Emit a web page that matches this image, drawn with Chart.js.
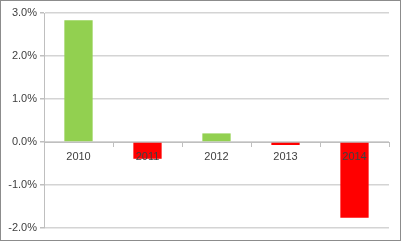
<!DOCTYPE html>
<html>
<head>
<meta charset="utf-8">
<script src="https://cdn.jsdelivr.net/npm/chart.js@4/dist/chart.umd.min.js"></script>
<style>
  html, body { margin: 0; padding: 0; background: #fff; }
  #wrap {
    width: 401px;
    height: 241px;
    box-sizing: border-box;
    border: 1px solid #8c8c8c;
    position: relative;
  }
  #wrap canvas { display: block; }
</style>
</head>
<body>
<div id="wrap"><canvas id="change-chart" width="399" height="239"></canvas></div>
<script>
var years = ["2010", "2011", "2012", "2013", "2014"];
var changePct = [2.83, -0.39, 0.2, -0.07, -1.76];
var yTicks = [-2, -1, 0, 1, 2, 3];

var positiveColor = "#92d050";
var negativeColor = "#ff0000";

document.addEventListener("DOMContentLoaded", function () {
  var ctx = document.getElementById("change-chart").getContext("2d");

  var barColors = changePct.map(function (v) {
    return v >= 0 ? positiveColor : negativeColor;
  });

  new Chart(ctx, {
    type: "bar",
    data: {
      labels: years,
      datasets: [
        {
          data: changePct,
          backgroundColor: barColors,
          borderWidth: 0,
          categoryPercentage: 1,
          barPercentage: 0.41,
        },
      ],
    },
    options: {
      responsive: false,
      animation: false,
      layout: {
        padding: { top: 12, right: 11, bottom: 12, left: 0 },
      },
      plugins: {
        legend: { display: false },
        tooltip: { enabled: false },
      },
      scales: {
        x: {
          position: { y: 0 },
          afterFit: function (scale) {
            scale.height = 0; // axis sits on the zero line
          },
          border: { color: "#bfbfbf", width: 1 },
          grid: {
            offset: true,
            drawOnChartArea: false,
            drawTicks: true,
            tickLength: 4,
            color: "#bfbfbf",
          },
          ticks: {
            z: 1, // labels go on top of the bars
            color: "#404040",
            padding: 4,
            font: { family: "Liberation Sans", size: 11 },
          },
        },
        y: {
          min: -2,
          max: 3,
          afterBuildTicks: function (scale) {
            scale.ticks = yTicks.map(function (v) {
              return { value: v };
            });
          },
          afterFit: function (scale) {
            scale.width = 43;
          },
          border: { color: "#bfbfbf", width: 1 },
          grid: {
            color: "#d4d4d4",
            lineWidth: 1.5,
            drawTicks: true,
            tickLength: 4,
            tickColor: "#bfbfbf",
          },
          ticks: {
            color: "#404040",
            padding: 3,
            font: { family: "Liberation Sans", size: 11 },
            callback: function (value) {
              return value.toFixed(1) + "%";
            },
          },
        },
      },
    },
  });
});
</script>
</body>
</html>
